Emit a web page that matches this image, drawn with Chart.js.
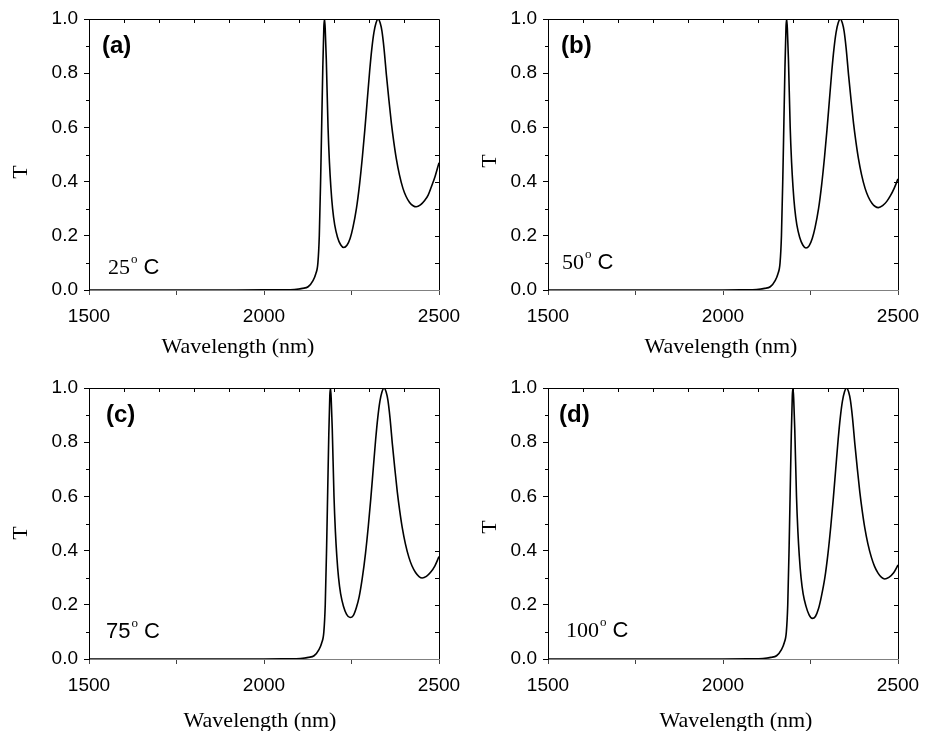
<!DOCTYPE html>
<html>
<head>
<meta charset="utf-8">
<script src="https://cdn.jsdelivr.net/npm/chart.js@4/dist/chart.umd.min.js"></script>
<style>
  html, body { margin: 0; padding: 0; background: #fff; }
  #wrap { position: relative; width: 932px; height: 731px; overflow: hidden; background: #fff; }
  canvas { position: absolute; }
</style>
</head>
<body>
<div id="wrap">
  <canvas id="pa" width="480" height="360" style="left:0;top:0"></canvas>
  <canvas id="pc" width="480" height="371" style="left:0;top:360px"></canvas>
  <canvas id="pb" width="466" height="360" style="left:466px;top:0"></canvas>
  <canvas id="pd" width="466" height="371" style="left:466px;top:360px"></canvas>
</div>
<script>
// transmission spectra, one pair of arrays per temperature
const wlA = [1500,1700,1900,2000,2050,2087,2110,2126,2140,2148,2154,2158,2162,2165,2168,2171,2173,2175,2178,2183,2187,2191,2196,2202,2210,2219,2228,2237,2246,2254,2264,2273,2281,2288,2295,2302,2308,2314,2320,2326,2332,2337,2343,2350,2357,2364,2371,2378,2387,2397,2406,2416,2426,2435,2447,2459,2469,2478,2489,2500];
const tA = [0,0,0,0.0003,0.001,0.002,0.006,0.012,0.035,0.06,0.10,0.20,0.42,0.62,0.82,0.97,1.0,0.96,0.85,0.60,0.47,0.38,0.30,0.24,0.195,0.167,0.157,0.165,0.19,0.23,0.30,0.39,0.49,0.59,0.70,0.81,0.89,0.95,0.985,1.0,0.985,0.955,0.89,0.79,0.70,0.615,0.545,0.485,0.425,0.375,0.345,0.323,0.311,0.307,0.314,0.33,0.35,0.38,0.42,0.47];

const wlB = [1500,1700,1900,2000,2059,2096,2119,2135,2149,2157,2163,2167,2171,2174,2177,2180,2182,2184,2187,2192,2196,2200,2205,2211,2219,2228,2237,2246,2255,2263,2273,2282,2290,2297,2304,2311,2317,2323,2329,2335,2341,2346,2352,2359,2366,2373,2380,2387,2396,2406,2415,2425,2435,2444,2456,2468,2478,2489,2500];
const tB = [0,0,0,0.0002,0.001,0.002,0.006,0.012,0.035,0.06,0.10,0.20,0.42,0.62,0.82,0.97,1.0,0.96,0.85,0.60,0.47,0.38,0.30,0.24,0.195,0.166,0.155,0.163,0.19,0.23,0.30,0.39,0.49,0.59,0.70,0.81,0.89,0.95,0.985,1.0,0.985,0.955,0.89,0.79,0.70,0.615,0.545,0.485,0.425,0.375,0.344,0.321,0.308,0.304,0.311,0.327,0.347,0.375,0.41];

const wlC = [1500,1700,1900,2000,2067,2104,2127,2143,2157,2165,2171,2175,2179,2182,2185,2188,2190,2192,2195,2200,2204,2208,2213,2219,2227,2236,2246,2255,2264,2272,2281,2290,2298,2305,2312,2319,2325,2331,2337,2343,2349,2354,2360,2367,2374,2381,2388,2395,2404,2414,2423,2433,2443,2452,2464,2476,2488,2500];
const tC = [0,0,0,0.0001,0.001,0.002,0.006,0.012,0.035,0.06,0.10,0.20,0.42,0.62,0.82,0.97,1.0,0.96,0.85,0.60,0.47,0.38,0.30,0.24,0.195,0.165,0.153,0.16,0.19,0.23,0.30,0.39,0.49,0.59,0.70,0.81,0.89,0.95,0.985,1.0,0.985,0.955,0.89,0.79,0.70,0.615,0.545,0.485,0.425,0.375,0.343,0.319,0.304,0.299,0.305,0.32,0.343,0.378];

const wlD = [1500,1700,1900,2000,2077,2114,2137,2153,2167,2175,2181,2185,2189,2192,2195,2198,2200,2202,2205,2210,2214,2218,2223,2229,2237,2246,2255,2264,2273,2281,2291,2300,2308,2315,2322,2329,2335,2341,2347,2353,2359,2364,2370,2377,2384,2391,2398,2405,2414,2424,2433,2443,2453,2462,2474,2487,2500];
const tD = [0,0,0,0.0001,0.001,0.002,0.006,0.012,0.035,0.06,0.10,0.20,0.42,0.62,0.82,0.97,1.0,0.96,0.85,0.60,0.47,0.38,0.30,0.24,0.195,0.163,0.150,0.157,0.186,0.23,0.30,0.39,0.49,0.59,0.70,0.81,0.89,0.95,0.985,1.0,0.985,0.955,0.89,0.79,0.70,0.615,0.545,0.485,0.425,0.375,0.342,0.317,0.301,0.295,0.301,0.317,0.347];

const xLabels = [1500, 2000, 2500];
const yLabels = [0, 0.2, 0.4, 0.6, 0.8, 1.0];
const panelTags = ["(a)", "(b)", "(c)", "(d)"];
const temps = ["25", "50", "75", "100"];

const SANS = "'Liberation Sans', Arial, sans-serif";
const SERIF = "'Liberation Serif', 'Times New Roman', serif";

const panels = [
    { id: "pa", wl: wlA, t: tA, w: 480, h: 360, l: 89, r: 439, top: 19, b: 290,
      tag: [102, 53], temp: { x: 108, y: 274, serif: true }, title: [238, 353], yt: [21, 172] },
    { id: "pb", wl: wlB, t: tB, w: 466, h: 360, l: 82, r: 432, top: 19, b: 290,
      tag: [95, 53], temp: { x: 96, y: 269, serif: true }, title: [255, 353], yt: [24, 161] },
    { id: "pc", wl: wlC, t: tC, w: 480, h: 371, l: 89, r: 439, top: 28, b: 299,
      tag: [106, 62], temp: { x: 106, y: 278, serif: false }, title: [260, 367], yt: [21, 173] },
    { id: "pd", wl: wlD, t: tD, w: 466, h: 371, l: 82, r: 432, top: 28, b: 299,
      tag: [93, 62], temp: { x: 100, y: 277, serif: true }, title: [270, 367], yt: [24, 167] }
];

// frame, minor ticks and the text that sits inside each panel
const decor = {
    id: "decor",
    afterDraw(chart, args, o) {
        const { ctx, chartArea: a, scales } = chart;
        const xs = scales.x, ys = scales.y;
        ctx.save();
        ctx.strokeStyle = "#000";
        ctx.lineWidth = 1;
        ctx.beginPath();
        ctx.moveTo(a.left, a.top + 0.5);
        ctx.lineTo(a.right + 0.5, a.top + 0.5);
        ctx.lineTo(a.right + 0.5, a.bottom);
        ctx.stroke();

        ctx.beginPath();
        for (let v = 1600; v < 2500; v += 100) {
            const px = Math.round(xs.getPixelForValue(v)) + 0.5;
            ctx.moveTo(px, a.top);
            ctx.lineTo(px, a.top + 4);
        }
        for (let k = 1; k < 10; k++) {
            const py = Math.round(ys.getPixelForValue(k / 10)) + 0.5;
            ctx.moveTo(a.right, py);
            ctx.lineTo(a.right - 4, py);
            if (k % 2 === 1) {
                ctx.moveTo(a.left, py);
                ctx.lineTo(a.left - 3, py);
            }
        }
        ctx.stroke();

        ctx.fillStyle = "#000";
        ctx.textBaseline = "alphabetic";
        ctx.textAlign = "left";
        ctx.font = "bold 24px " + SANS;
        ctx.fillText(o.tag, o.tagPos[0], o.tagPos[1]);

        let x = o.temp.x;
        ctx.font = "22px " + (o.temp.serif ? SERIF : SANS);
        ctx.fillText(o.num, x, o.temp.y);
        x += ctx.measureText(o.num).width + 1;
        ctx.font = "13px " + SERIF;
        ctx.fillText("o", x, o.temp.y - 11);
        x += ctx.measureText("o").width + 6;
        ctx.font = "22px " + SANS;
        ctx.fillText("C", x, o.temp.y);

        ctx.font = "22px " + SERIF;
        ctx.textAlign = "center";
        ctx.fillText("Wavelength (nm)", o.title[0], o.title[1]);

        ctx.translate(o.yt[0], o.yt[1]);
        ctx.rotate(-Math.PI / 2);
        ctx.textBaseline = "middle";
        ctx.fillText("T", 0, 0);
        ctx.restore();
    }
};

panels.forEach(p => {
    const i = ["pa", "pb", "pc", "pd"].indexOf(p.id);
    new Chart(document.getElementById(p.id), {
        type: "line",
        data: {
            datasets: [{
                data: p.wl.map((x, j) => ({ x, y: p.t[j] })),
                borderColor: "#000",
                borderWidth: 1.6,
                pointRadius: 0,
                cubicInterpolationMode: "monotone",
                fill: false
            }]
        },
        options: {
            responsive: false,
            animation: false,
            events: [],
            layout: { padding: { left: 0, top: p.top, right: p.w - p.r, bottom: 0 } },
            plugins: {
                legend: { display: false },
                tooltip: { enabled: false },
                decor: { tag: panelTags[i], tagPos: p.tag, num: temps[i], temp: p.temp, title: p.title, yt: p.yt }
            },
            scales: {
                x: {
                    type: "linear", min: 1500, max: 2500,
                    afterFit: s => { s.height = p.h - p.b; },
                    border: { color: "#808080", width: 1 },
                    grid: { drawOnChartArea: false, tickLength: 5, tickColor: "#444" },
                    ticks: {
                        stepSize: 250, autoSkip: false, maxRotation: 0, padding: 10, color: "#000",
                        font: { family: SANS, size: 19 },
                        callback: v => xLabels.includes(v) ? String(v) : ""
                    }
                },
                y: {
                    min: 0, max: 1,
                    afterFit: s => { s.width = p.l; },
                    border: { color: "#000", width: 1 },
                    grid: { drawOnChartArea: false, tickLength: 5, tickColor: "#000" },
                    ticks: {
                        stepSize: 0.2, padding: 6, color: "#000",
                        font: { family: SANS, size: 19 },
                        callback: v => yLabels.some(y => Math.abs(y - v) < 1e-6) ? v.toFixed(1) : ""
                    }
                }
            }
        },
        plugins: [decor]
    });
});
</script>
</body>
</html>
